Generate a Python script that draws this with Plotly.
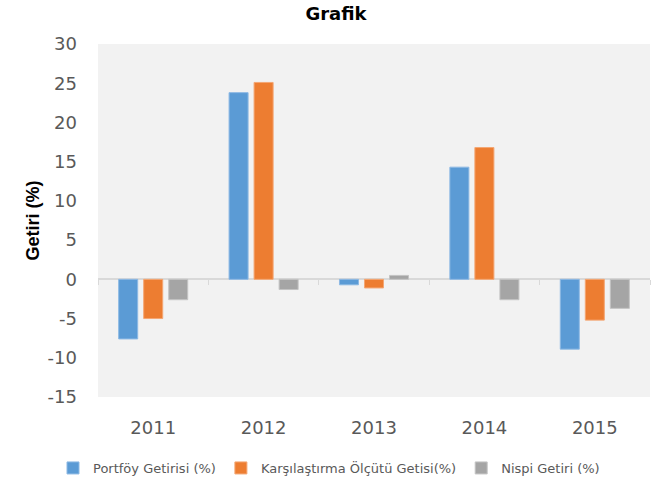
import plotly.graph_objects as go

years = ["2011", "2012", "2013", "2014", "2015"]
portfoy = [-7.6, 23.8, -0.7, 14.3, -8.9]
karsilastirma = [-5.0, 25.1, -1.1, 16.8, -5.2]
nispi = [-2.6, -1.3, 0.5, -2.6, -3.7]

ytick_vals = [-15, -10, -5, 0, 5, 10, 15, 20, 25, 30]
ytick_text = ["-15", "-10", "-5", "0", "5", "10", "15", "20", "25", "30"]

names = ["Portföy Getirisi (%)", "Karşılaştırma Ölçütü Getisi(%)", "Nispi Getiri (%)"]
colors = ["#5B9BD5", "#ED7D31", "#A5A5A5"]
edge = ["#8DB9E4", "#F4A673", "#C4C4C4"]

fig = go.Figure()
for vals, name, c, e in zip([portfoy, karsilastirma, nispi], names, colors, edge):
    fig.add_trace(go.Bar(x=years, y=vals, name=name, marker=dict(color=c, line=dict(color=e, width=1))))

# invisible helper trace so the tick-mark axis at zero exists
fig.add_trace(go.Scatter(x=years, y=[None]*len(years), xaxis="x2", showlegend=False,
                         hoverinfo="skip", mode="markers"))

fig.update_layout(
    width=658, height=482,
    paper_bgcolor="white", plot_bgcolor="#F2F2F2",
    margin=dict(l=98, r=8, t=44, b=85, autoexpand=False),
    barmode="group", bargap=0.32, bargroupgap=0.24,
    font=dict(family="DejaVu Sans, sans-serif", color="#595959"),
    title=dict(text="<b>Grafik</b>", x=336/658, xref="container", xanchor="center",
               y=1 - 14/482, yref="container", yanchor="middle",
               font=dict(family="DejaVu Sans", size=18, color="#000000")),
    xaxis=dict(type="category", categoryorder="array", categoryarray=years,
               showgrid=False, ticks="", showline=False, zeroline=False, automargin=False,
               ticklabelstandoff=18,
               tickfont=dict(size=18, color="#595959")),
    xaxis2=dict(type="category", categoryorder="array", categoryarray=years,
                overlaying="x", matches="x", anchor="free", position=1/3,
                ticks="outside", tickson="boundaries", ticklen=5, tickcolor="#D9D9D9",
                showticklabels=False, showgrid=False, showline=False, zeroline=False),
    yaxis=dict(range=[-15, 30], tickmode="array", tickvals=ytick_vals, ticktext=ytick_text,
               showgrid=False, zeroline=True, automargin=False,
               zerolinecolor="#D9D9D9", zerolinewidth=1.5, showline=False,
               ticklabelstandoff=20,
               tickfont=dict(size=18, color="#595959"), ticks="",
               title=dict(text="<b>Getiri (%)</b>",
                          font=dict(family="Liberation Sans", size=18, color="#000000"), standoff=3)),
    legend=dict(orientation="h", x=0.5, xref="container", xanchor="center",
                y=1 - 453/482, yref="container", yanchor="top",
                font=dict(size=13, color="#595959"), itemwidth=30, traceorder="normal"),
)

fig.write_html("out.html", config={"displayModeBar": False},
               post_script="document.body.style.margin='0px';")
